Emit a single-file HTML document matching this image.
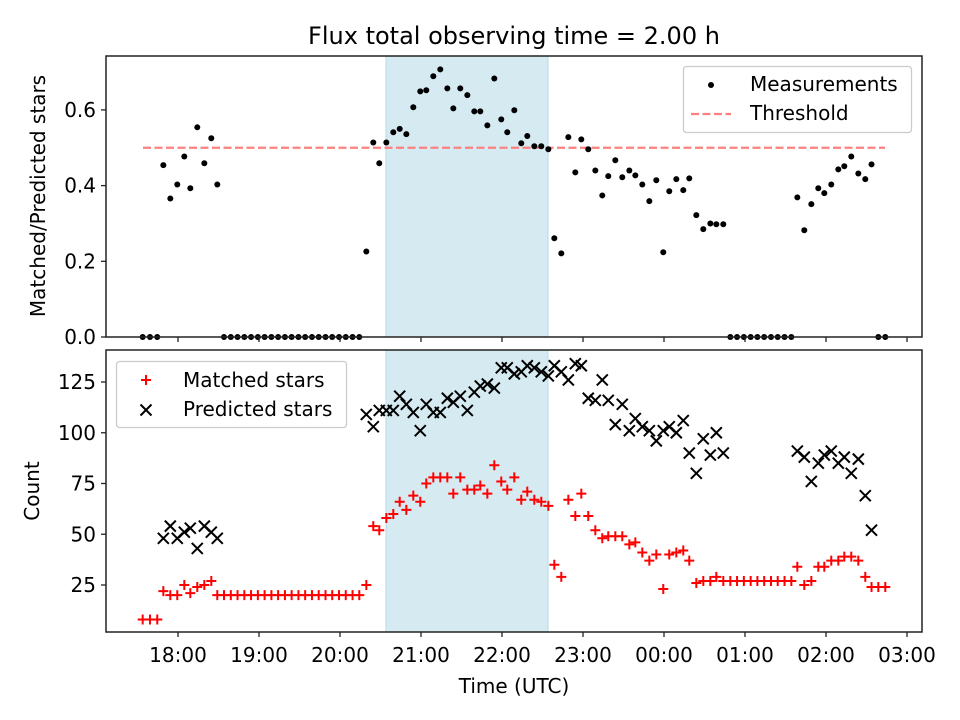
<!DOCTYPE html>
<html><head><meta charset="utf-8"><style>
html,body{margin:0;padding:0;background:#fff}
svg{display:block;font-family:"DejaVu Sans","Liberation Sans",sans-serif}
</style></head><body>
<svg id="chart" width="960" height="720" viewBox="0 0 960 720"></svg>
<script>
const hours=[17.564,17.654,17.744,17.819,17.905,17.991,18.078,18.152,18.238,18.325,18.411,18.485,
18.568,18.652,18.735,18.819,18.902,18.986,19.069,19.153,19.236,19.320,19.403,19.487,19.570,19.654,19.737,19.821,19.904,19.988,20.071,20.155,20.238,
20.325,20.411,20.485,20.572,20.658,20.737,20.819,20.905,20.991,21.065,21.152,21.238,21.325,21.399,21.485,21.572,21.658,21.732,21.819,21.905,
21.991,22.065,22.152,22.238,22.312,22.399,22.485,22.572,22.646,22.732,22.819,22.905,22.979,23.065,23.152,23.238,23.312,23.399,23.485,23.572,
23.646,23.732,23.819,23.905,23.991,24.065,24.152,24.238,24.312,24.399,24.485,24.572,24.646,24.732,
24.819,24.902,24.986,25.070,25.153,25.237,25.321,25.404,25.488,25.572,
25.646,25.732,25.819,25.905,25.979,26.065,26.152,26.226,26.312,26.399,26.485,26.562,26.646,26.732];
const ratio=[0,0,0,0.454,0.366,0.403,0.477,0.393,0.554,0.459,0.525,0.403,
0,0,0,0,0,0,0,0,0,0,0,0,0,0,0,0,0,0,0,0,0,
0.226,0.514,0.459,0.514,0.541,0.550,0.536,0.607,0.649,0.652,0.689,0.707,0.657,0.604,0.657,0.639,0.596,0.596,0.559,0.683,
0.575,0.541,0.599,0.512,0.531,0.504,0.504,0.496,0.261,0.221,0.528,0.435,0.522,0.496,0.440,0.374,0.425,0.467,0.422,0.440,
0.427,0.403,0.359,0.414,0.224,0.385,0.417,0.388,0.419,0.322,0.285,0.300,0.298,0.298,
0,0,0,0,0,0,0,0,0,0,
0.369,0.282,0.351,0.393,0.380,0.403,0.443,0.451,0.477,0.432,0.417,0.456,0,0];
const matched=[8,8,8,22,20,20,25,21,24,25,27,20,
20,20,20,20,20,20,20,20,20,20,20,20,20,20,20,20,20,20,20,20,20,
25,54,52,58,60,66,62,69,66,75,78,78,78,70,78,72,72,74,70,84,
76,72,78,67,71,67,66,64,35,29,67,59,70,59,52,48,49,49,49,45,
46,41,37,40,23,40,41,42,37,26,27,27,29,27,
27,27,27,27,27,27,27,27,27,27,
34,25,27,34,34,37,37,39,39,37,29,24,24,24];
const predicted=[null,null,null,48,54,48,51,53,43,54,51,48,
null,null,null,null,null,null,null,null,null,null,null,null,null,null,null,null,null,null,null,null,null,
109,103,111,111,111,118,114,110,101,114,110,110,117,115,118,111,120,123,124,122,
132,132,129,130,133,132,130,128,133,130,126,134,133,117,116,126,116,104,114,101,
107,103,101,96,101,103,100,106,90,80,97,89,100,90,
null,null,null,null,null,null,null,null,null,null,
91,88,76,85,89,91,85,88,80,87,69,52];
const xTickHours=[18,19,20,21,22,23,24,25,26,27];
const xTickLabels=["18:00","19:00","20:00","21:00","22:00","23:00","00:00","01:00","02:00","03:00"];
const ratioTicks=[0,0.2,0.4,0.6];
const countTicks=[25,50,75,100,125];
const threshold=0.5;
const shade=[20.568,22.568];

const NS="http://www.w3.org/2000/svg";
const svg=document.getElementById('chart');
const L=106,R=922,T1=56,B1=337,T2=350,B2=632;
const FS=20;
const xs=h=>178+(h-18)*81;
const y1=v=>337-v*378.5;
const y2=v=>635.75-v*2.03;
function el(tag,attrs,parent){const e=document.createElementNS(NS,tag);for(const k in attrs)e.setAttribute(k,attrs[k]);(parent||svg).appendChild(e);return e;}
function txt(s,attrs,parent){const e=el('text',attrs,parent);e.textContent=s;return e;}

const title=txt("Flux total observing time = 2.00 h",{x:514,y:44,'text-anchor':'middle','font-size':24,fill:'#000'});



function panel(top,bot,name){
  const g=el('g',{});
  
  
  const sh=el('rect',{x:xs(shade[0]),y:top,width:xs(shade[1])-xs(shade[0]),height:bot-top,fill:'#d5eaf1',stroke:'#b7dbe7','stroke-width':1},g);
  
  
  return g;
}
function frame(g,top,bot,showLabels){
  const f=el('rect',{x:L,y:top,width:R-L,height:bot-top,fill:'none',stroke:'#222','stroke-width':1.5},g);
  
  
  xTickHours.forEach((h,i)=>{
    const x=xs(h);
    const t=el('line',{x1:x,x2:x,y1:bot,y2:bot+5,stroke:'#222','stroke-width':1.3},g);
    
    
    if(showLabels){
      const lb=txt(xTickLabels[i],{x:x,y:bot+30,'text-anchor':'middle','font-size':FS},g);
      
      
    }
  });
}

/* top panel */
const g1=panel(T1,B1,'ratio-panel');
const th=el('line',{x1:143,x2:885,y1:y1(threshold),y2:y1(threshold),stroke:'#ff8080','stroke-width':2.2,'stroke-dasharray':'8,3.5'},g1);


hours.forEach((h,i)=>{
  const c=el('circle',{cx:xs(h),cy:y1(ratio[i]),r:3,fill:'#000'},g1);
  
  
});
frame(g1,T1,B1,false);
ratioTicks.forEach(v=>{
  const y=y1(v);
  const t=el('line',{x1:L-5,x2:L,y1:y,y2:y,stroke:'#222','stroke-width':1.3},g1);
  
  
  const lb=txt(v.toFixed(1),{x:L-10,y:y+7,'text-anchor':'end','font-size':FS},g1);
  
  
});
const yl1=txt("Matched/Predicted stars",{x:0,y:0,transform:'translate(45,196) rotate(-90)','text-anchor':'middle','font-size':FS},g1);


/* legend top */
const lg1=el('g',{},g1);


el('rect',{x:683.5,y:66.5,width:228,height:66,rx:3,fill:'#fff','fill-opacity':0.8,stroke:'#ccc','stroke-width':1.3},lg1);
el('circle',{cx:711,cy:85,r:3,fill:'#000'},lg1);
const le1=txt("Measurements",{x:750,y:91,'font-size':FS},lg1);


el('line',{x1:691,x2:731,y1:114,y2:114,stroke:'#ff8080','stroke-width':2.2,'stroke-dasharray':'8,3.5'},lg1);
const le2=txt("Threshold",{x:750,y:120,'font-size':FS},lg1);



/* bottom panel */
const g2=panel(T2,B2,'count-panel');
function plus(g,x,y){return el('path',{d:`M${x-5},${y}H${x+5}M${x},${y-5}V${y+5}`,stroke:'#f00','stroke-width':2,fill:'none'},g);}
function cross(g,x,y){return el('path',{d:`M${x-5.5},${y-5.5}L${x+5.5},${y+5.5}M${x-5.5},${y+5.5}L${x+5.5},${y-5.5}`,stroke:'#000','stroke-width':2,fill:'none'},g);}
hours.forEach((h,i)=>{
  const p=plus(g2,xs(h),y2(matched[i]));
  
  
});
hours.forEach((h,i)=>{
  if(predicted[i]==null)return;
  const p=cross(g2,xs(h),y2(predicted[i]));
  
  
});
frame(g2,T2,B2,true);
countTicks.forEach(v=>{
  const y=y2(v);
  const t=el('line',{x1:L-5,x2:L,y1:y,y2:y,stroke:'#222','stroke-width':1.3},g2);
  
  
  const lb=txt(String(v),{x:L-10,y:y+7,'text-anchor':'end','font-size':FS},g2);
  
  
});
const yl2=txt("Count",{x:0,y:0,transform:'translate(39,491) rotate(-90)','text-anchor':'middle','font-size':FS},g2);


const xl=txt("Time (UTC)",{x:514,y:693,'text-anchor':'middle','font-size':FS},g2);


const lg2=el('g',{},g2);


el('rect',{x:116.5,y:361.5,width:230,height:66,rx:3,fill:'#fff','fill-opacity':0.8,stroke:'#ccc','stroke-width':1.3},lg2);
plus(lg2,146,380);
const le3=txt("Matched stars",{x:183,y:387,'font-size':FS},lg2);


cross(lg2,146,410);
const le4=txt("Predicted stars",{x:183,y:416,'font-size':FS},lg2);


</script>
</body></html>
